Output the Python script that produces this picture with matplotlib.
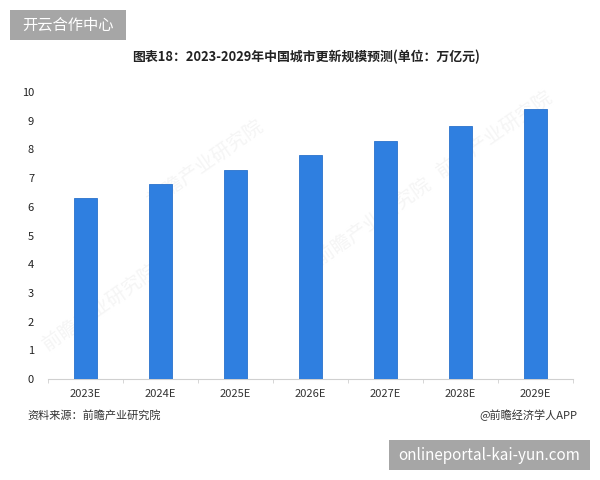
import numpy as np
import matplotlib
matplotlib.use('Agg')
import matplotlib.pyplot as plt
from matplotlib.patches import Rectangle

plt.rcParams['font.family'] = ['Noto Sans CJK SC', 'DejaVu Sans']

# Dados
anos = ['2023E', '2024E', '2025E', '2026E', '2027E', '2028E', '2029E']
valores = [6.3, 6.8, 7.3, 7.8, 8.3, 8.8, 9.4]
titulo = '图表18：2023-2029年中国城市更新规模预测(单位：万亿元)'
fonte = '资料来源：前瞻产业研究院'
marca = '@前瞻经济学人APP'

fig = plt.figure(figsize=(6, 4.8), dpi=100)
ax = fig.add_axes([0.08, 0.2104, 0.875, 0.5979])

x = np.arange(len(anos))
ax.bar(x, valores, width=0.3, color='#2F7FE0', edgecolor='#2A72CC', linewidth=0.6, zorder=3)

ax.set_xlim(-0.5, len(anos) - 0.5)
ax.set_ylim(0, 10)
ax.set_yticks(range(0, 11))
ax.set_xticks(x)
ax.set_xticklabels(anos, fontsize=8, color='#333333')
ax.tick_params(axis='x', length=0, pad=7)
ax.tick_params(axis='y', length=0, labelsize=8, labelcolor='#222222', pad=10)
ax.set_xticks(np.arange(-0.5, len(anos)), minor=True)
ax.tick_params(axis='x', which='minor', length=3, color='#D0D0D0')

for s in ['top', 'right', 'left']:
    ax.spines[s].set_visible(False)
ax.spines['bottom'].set_color('#D0D0D0')

# Marcas d'água discretas
for (wx, wy) in [(0.3, 0.75), (0.62, 0.55), (0.1, 0.25), (0.85, 0.85)]:
    ax.text(wx, wy, '前瞻产业研究院', transform=ax.transAxes, fontsize=14,
            color='#F5F5F5', rotation=35, ha='center', va='center', zorder=1)

fig.text(0.51, 0.881, titulo, ha='center', va='center', fontsize=9.3,
         fontweight='bold', color='#222222')
fig.text(0.045, 0.135, fonte, ha='left', va='center', fontsize=8, color='#333333')
fig.text(0.963, 0.135, marca, ha='right', va='center', fontsize=8, color='#333333')

# Caixas cinzas
fig.patches.append(Rectangle((10 / 600, 1 - 40 / 480), 116 / 600, 30 / 480,
                             transform=fig.transFigure, facecolor='#A6A6A6', edgecolor='none'))
fig.text(68 / 600, 1 - 25 / 480, '开云合作中心', ha='center', va='center', fontsize=11, color='white')
fig.patches.append(Rectangle((389 / 600, 1 - 470 / 480), 201 / 600, 30 / 480,
                             transform=fig.transFigure, facecolor='#A6A6A6', edgecolor='none'))
fig.text(489 / 600, 1 - 455 / 480, 'onlineportal-kai-yun.com', ha='center', va='center',
         fontsize=11, color='white')

fig.savefig('out.png', dpi=100)
